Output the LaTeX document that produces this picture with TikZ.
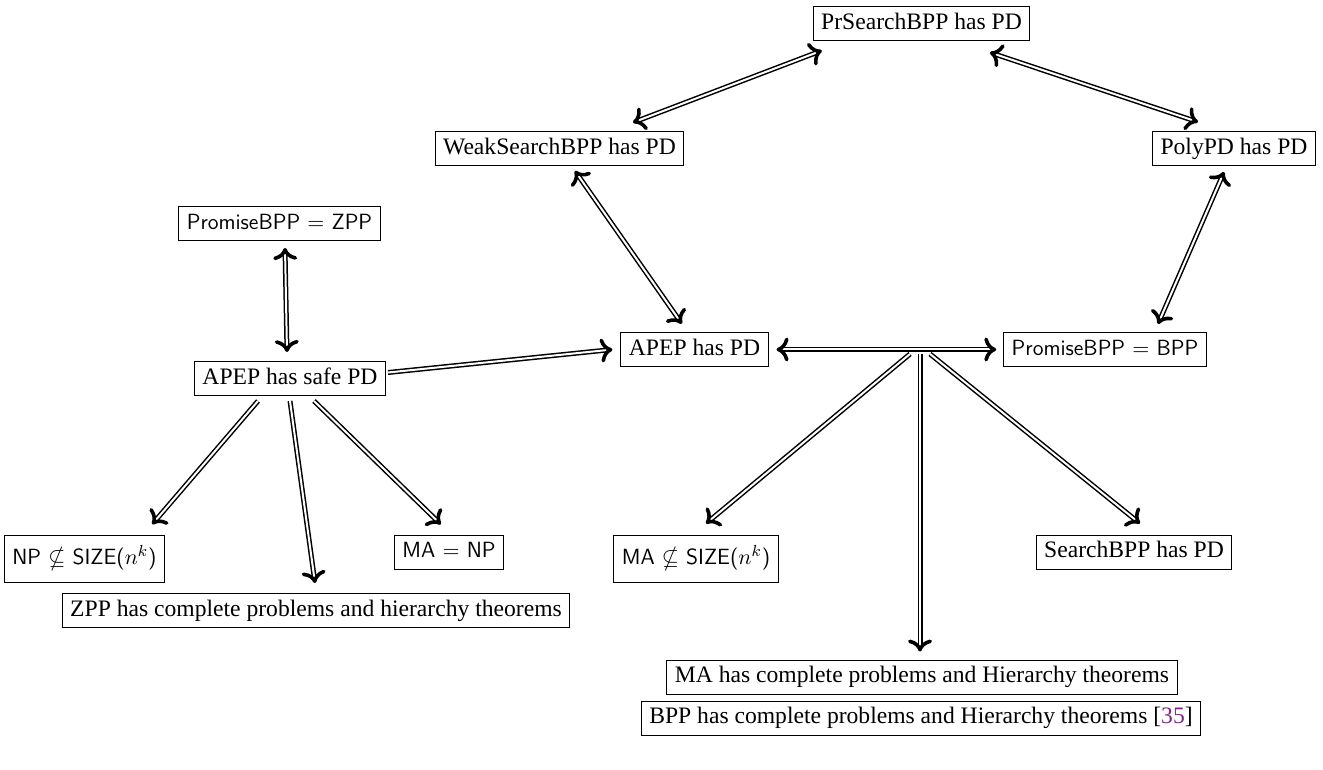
\documentclass[tikz,border=0pt]{standalone}
\usepackage{amssymb}
\usepackage{fontspec}
\setmainfont{Liberation Serif}
\usetikzlibrary{arrows.meta,calc,decorations.markings}
\definecolor{citepurple}{RGB}{120,40,130}
\begin{document}
\begin{tikzpicture}[x=0.5pt,y=-0.5pt,
  cmr/.tip={Computer Modern Rightarrow[length=6pt,width=12pt,line width=1.8pt 0 0]},
  box/.style={draw,line width=0.5pt,inner xsep=4pt,inner ysep=3pt,text height=8.4pt,text depth=2.6pt,font=\fontsize{11.8}{14}\selectfont},
  sbox/.style={box,font=\fontsize{11}{14}\selectfont\sffamily},
  shaft/.style={line width=2.5pt,postaction={draw=white,line width=1.0pt}},
  imp/.style={shaft,shorten >=2.5pt,
    postaction={decorate,decoration={markings,mark=at position 1 with {\arrow{cmr}}}}},
  iff/.style={shaft,shorten >=2.5pt,shorten <=2.5pt,
    postaction={decorate,decoration={markings,mark=at position 0 with {\arrowreversed{cmr}},mark=at position 1 with {\arrow{cmr}}}}}]
\useasboundingbox (0,0) rectangle (1323,770);
% nodes
\node[box] (prs) at (921.5,24) {PrSearchBPP has PD};
\node[box] (weak) at (559.5,148.5) {WeakSearchBPP has PD};
\node[box] (poly) at (1234,148.5) {PolyPD has PD};
\node[sbox] (pzpp) at (279.5,223.5) {PromiseBPP $=$ ZPP};
\node[box] (safe) at (290,378.5) {APEP has safe PD};
\node[box] (apep) at (694.5,349.5) {APEP has PD};
\node[sbox] (pbpp) at (1105,349.5) {PromiseBPP $=$ BPP};
\node[sbox,minimum height=23.5pt] (npsize) at (84.5,558.5) {NP $\nsubseteq$ SIZE($n^k$)};
\node[sbox] (manp) at (449,552) {MA $=$ NP};
\node[box] (zppc) at (316,610.5) {ZPP has complete problems and hierarchy theorems};
\node[sbox,minimum height=23.5pt] (masize) at (696,558.5) {MA $\nsubseteq$ SIZE($n^k$)};
\node[box] (search) at (1134,552) {SearchBPP has PD};
\node[box] (mac) at (922,677) {MA has complete problems and Hierarchy theorems};
\node[box] (bppc) at (921,718) {BPP has complete problems and Hierarchy theorems [\textcolor{citepurple}{35}]};
\coordinate (fork) at (920,354);
% connectors
\draw[iff] ($(weak.north)+(73.5,-8.5)$) -- ($(prs.south)+(-99.5,9)$);
\draw[iff] ($(prs.south)+(68.5,11)$) -- ($(poly.north)+(-36,-9)$);
\draw[iff] ($(weak.south)+(15.5,5)$) -- ($(apep.north)+(-12.5,-8)$);
\draw[iff] ($(poly.south)+(-10,6)$) -- ($(pbpp.north)+(53,-8)$);
\draw[iff] ($(pzpp.south)+(5.5,7)$) -- ($(safe.north)+(-3,-9)$);
\draw[imp] ($(safe.east)+(2,-6)$) -- ($(apep.west)+(-8,0)$);
\draw[iff] ($(apep.east)+(8,0)$) -- ($(pbpp.west)+(-7,0)$);
\draw[imp] ($(fork)+(-10,0)$) -- ($(masize.north)+(10,-11)$);
\draw[imp] (fork) -- ($(mac.north)+(-2,-8)$);
\draw[imp] ($(fork)+(10,0)$) -- ($(search.north)+(6,-11)$);
\draw[imp] ($(safe.south)+(-32,5)$) -- ($(npsize.north)+(67.5,-10)$);
\draw[imp] ($(safe.south)+(0,5)$) -- ($(zppc.north)+(-1,-10)$);
\draw[imp] ($(safe.south)+(24,5)$) -- ($(manp.north)+(-8,-10)$);
\end{tikzpicture}
\end{document}
